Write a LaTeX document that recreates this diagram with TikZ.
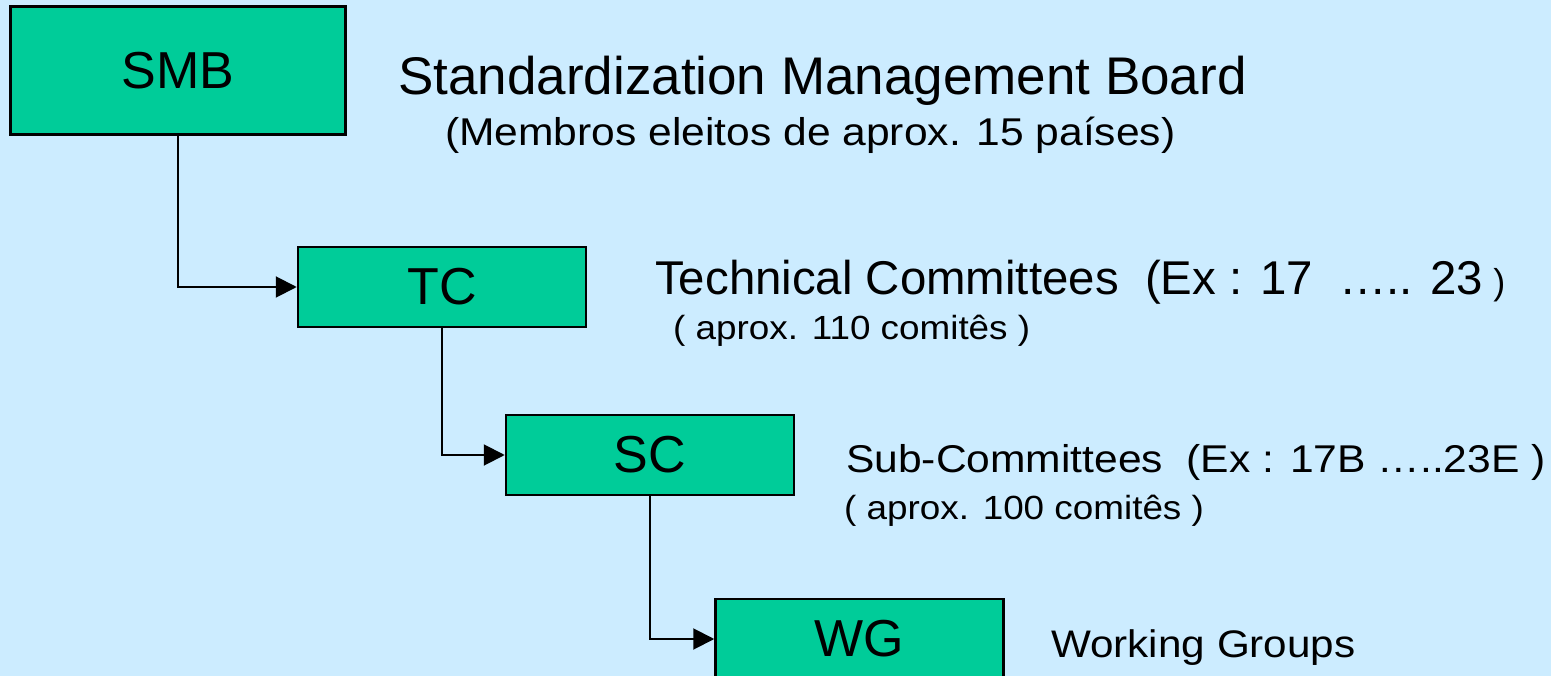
\documentclass[tikz,border=0pt]{standalone}
\usepackage{fontspec}
\setmainfont{Liberation Sans}
\newfontfamily\widefont[FakeStretch=1.1]{Liberation Sans}
\usetikzlibrary{arrows.meta}
\definecolor{slideblue}{RGB}{204,236,255}
\definecolor{boxgreen}{RGB}{0,204,153}

\begin{document}
\begin{tikzpicture}[x=1pt, y=-1pt,
      box/.style={draw=black, fill=boxgreen, line width=2.5pt, minimum width=288pt,
        minimum height=80pt, inner sep=0pt, font=\fontsize{52}{60}\selectfont},
      desc/.style={anchor=base west, inner sep=0pt},
      link/.style={line width=2pt, -{Triangle[length=21pt,width=21pt]}}]
    \fill[slideblue] (0,0) rectangle (1551,676);
    \useasboundingbox (0,0) rectangle (1551,676);
    \node (SMB) [box, minimum width=335pt, minimum height=128pt] at (178,70.5) {SMB};
    \node (TC) [box] at (442,287) {TC};
    \node (SC) [box] at (650,455) {SC};
    \node (WG) [box] at (859.5,639) {WG};
    \draw[link] (SMB.south) |- (TC.west);
    \draw[link] (TC.south) |- (SC.west);
    \draw[link] (SC.south) |- (WG.west);
    \node (smbname) [desc, font=\fontsize{53}{60}\selectfont] at (398,95) {Standardization Management Board};
    \node (smbnote) [desc, font=\widefont\fontsize{38.7}{44}\selectfont] at (445,146) {(Membros eleitos de aprox. 15 países)};
    \node (tcname) [desc, font=\fontsize{47.4}{54}\selectfont] at (655,295)
      {Technical Committees\ \ (Ex : 17\ \ ….. 23{\fontsize{36}{40}\selectfont\ )}};
    \node (tcnote) [desc, font=\widefont\fontsize{33.5}{38}\selectfont] at (673,340) {( aprox. 110 comitês )};
    \node (scname) [desc, font=\widefont\fontsize{38.7}{44}\selectfont] at (846,472) {Sub-Committees\ \ (Ex : 17B …..23E )};
    \node (scnote) [desc, font=\widefont\fontsize{33.5}{38}\selectfont] at (844,519) {( aprox. 100 comitês )};
    \node (wgname) [desc, font=\widefont\fontsize{38.4}{44}\selectfont] at (1051,657) {Working Groups};
\end{tikzpicture}
\end{document}
